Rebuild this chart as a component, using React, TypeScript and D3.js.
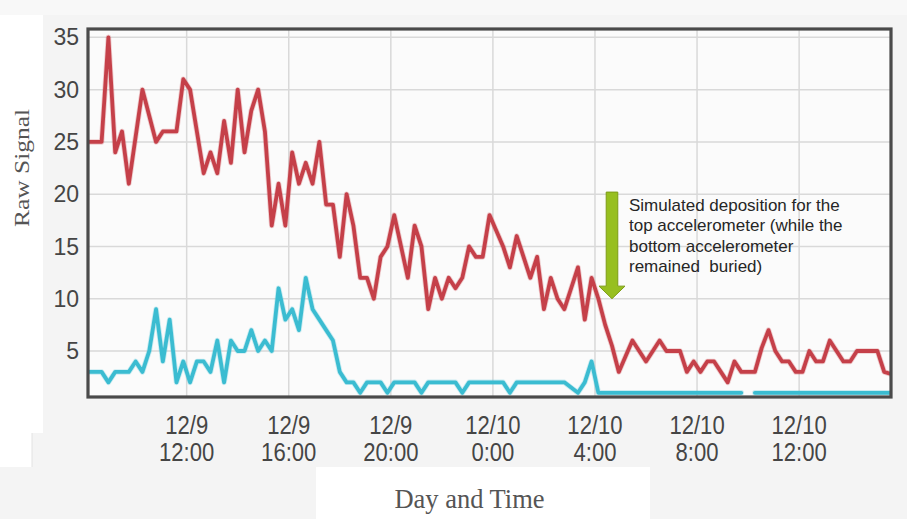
import React from 'react';
import * as d3 from 'd3';

// Raw signal, top accelerometer (red) - one reading every 16 minutes
const redValues: number[] = [
  25, 25, 25, 35, 24, 26, 21, 25.5, 30, 27.5,
  25, 26, 26, 26, 31, 30, 26, 22, 24, 22,
  27, 23, 30, 24, 28, 30, 26, 17, 21, 17,
  24, 21, 23, 21, 25, 19, 19, 14, 20, 17,
  12, 12, 10, 14, 15, 18, 15, 12, 17, 15,
  9, 12, 10, 12, 11, 12, 15, 14, 14, 18,
  16.5, 15, 13, 16, 14, 12, 14, 9, 12, 10,
  9, 11, 13, 8, 12, 10, 7.5, 5.5, 3, 4.5,
  6, 5, 4, 5, 6, 5, 5, 5, 3, 4,
  3, 4, 4, 3, 2, 4, 3, 3, 3, 5.3,
  7, 5, 4, 4, 3, 3, 5, 4, 4, 6,
  5, 4, 4, 5, 5, 5, 5, 3, 2.8,
];

// Raw signal, bottom accelerometer (cyan); null = missing reading
const cyanValues: (number | null)[] = [
  3, 3, 3, 2, 3, 3, 3, 4, 3, 5,
  9, 4, 8, 2, 4, 2, 4, 4, 3, 6,
  2, 6, 5, 5, 7, 5, 6, 5, 11, 8,
  9, 7, 12, 9, 8, 7, 6, 3, 2, 2,
  1, 2, 2, 2, 1, 2, 2, 2, 2, 1,
  2, 2, 2, 2, 2, 1, 2, 2, 2, 2,
  2, 2, 1, 2, 2, 2, 2, 2, 2, 2,
  2, 1.5, 1, 2, 4, 1, 1, 1, 1, 1,
  1, 1, 1, 1, 1, 1, 1, 1, 1, 1,
  1, 1, 1, 1, 1, 1, 1, null, 1, 1,
  1, 1, 1, 1, 1, 1, 1, 1, 1, 1,
  1, 1, 1, 1, 1, 1, 1, 1, 1,
];

const yTicks = [5, 10, 15, 20, 25, 30, 35];
const xTickTimes = [
  new Date(2014, 11, 9, 12, 0),
  new Date(2014, 11, 9, 16, 0),
  new Date(2014, 11, 9, 20, 0),
  new Date(2014, 11, 10, 0, 0),
  new Date(2014, 11, 10, 4, 0),
  new Date(2014, 11, 10, 8, 0),
  new Date(2014, 11, 10, 12, 0),
];
const startTime = new Date(2014, 11, 9, 8, 8);
const stepMinutes = 16;

const annotationLines = [
  'Simulated deposition for the',
  'top accelerometer (while the',
  'bottom accelerometer',
  'remained  buried)',
];
const arrowIndex = 77;
const arrowTopValue = 20.2;
const arrowTipValue = 10;

const yLabel = 'Raw Signal';
const xLabel = 'Day and Time';

const W = 907;
const H = 519;
const L = 88, R = 891, T = 29, B = 397;

export default function App() {
  const times = redValues.map((_, i) => new Date(startTime.getTime() + i * stepMinutes * 60000));
  const x = d3.scaleTime().domain([times[0], times[times.length - 1]]).range([L, R]);
  const y = d3.scaleLinear().domain([0.6, 35.8]).range([B, T]);

  const line = d3
    .line<number | null>()
    .defined((v) => v != null)
    .x((_, i) => x(times[i]))
    .y((v) => y(v as number));

  const fmtDay = d3.timeFormat('%-m/%-d');
  const fmtHour = d3.timeFormat('%-H:%M');

  const ax = x(times[arrowIndex]);
  const aTop = y(arrowTopValue);
  const aTip = y(arrowTipValue);
  const headH = 12.6;
  const shaftHW = 5.8;
  const headHW = 13;
  const arrowPts = [
    [ax - shaftHW, aTop],
    [ax + shaftHW, aTop],
    [ax + shaftHW, aTip - headH],
    [ax + headHW, aTip - headH],
    [ax, aTip],
    [ax - headHW, aTip - headH],
    [ax - shaftHW, aTip - headH],
  ]
    .map((p) => p.join(','))
    .join(' ');

  const sans = '"Liberation Sans", Arial, Helvetica, sans-serif';
  const serif = '"Liberation Serif", "Times New Roman", serif';

  return (
    <svg
      width={W}
      height={H}
      viewBox={`0 0 ${W} ${H}`}
      style={{ position: 'absolute', left: 0, top: 0, display: 'block' }}
    >
      <defs>
        <clipPath id="plotClip">
          <rect x={L} y={T} width={R - L} height={B - T} />
        </clipPath>
        <filter id="soft" x="-5%" y="-5%" width="110%" height="110%">
          <feGaussianBlur stdDeviation="0.6" />
        </filter>
      </defs>

      {/* page backgrounds */}
      <rect x={0} y={0} width={W} height={H} fill="#f4f4f4" />
      <rect x={0} y={0} width={W} height={15} fill="#f8f8f8" />
      <rect x={0} y={15} width={43} height={418} fill="#ffffff" />
      <rect x={0} y={433} width={32} height={34} fill="#ffffff" />
      <line x1={32} x2={32} y1={433} y2={467} stroke="#e2e2e2" strokeWidth={1} />
      <rect x={316} y={467} width={334} height={52} fill="#ffffff" />

      {/* plot area */}
      <rect x={L} y={T} width={R - L} height={B - T} fill="#fbfbfb" />

      {/* grid */}
      <g stroke="#d9d9d9" strokeWidth={1.5}>
        {yTicks.map((t) => (
          <line key={`gy${t}`} x1={L} x2={R} y1={y(t)} y2={y(t)} />
        ))}
        {xTickTimes.map((t, i) => (
          <line key={`gx${i}`} x1={x(t)} x2={x(t)} y1={T} y2={B} />
        ))}
      </g>

      {/* series */}
      <g clipPath="url(#plotClip)" fill="none" strokeLinejoin="round" strokeLinecap="round">
        <path d={line(redValues) || ''} stroke="#c9454b" strokeWidth={5.5} opacity={0.25} filter="url(#soft)" />
        <path d={line(redValues) || ''} stroke="#c5414a" strokeWidth={3.8} filter="url(#soft)" />
        <path d={line(cyanValues) || ''} stroke="#3cbdd2" strokeWidth={5.5} opacity={0.25} filter="url(#soft)" />
        <path d={line(cyanValues) || ''} stroke="#3bbcd1" strokeWidth={3.8} filter="url(#soft)" />
      </g>

      {/* frame */}
      <rect
        x={L}
        y={T}
        width={R - L}
        height={B - T}
        fill="none"
        stroke="#4a4a4a"
        strokeWidth={3.2}
      />

      {/* y tick labels */}
      <g fontFamily={sans} fontSize={23} fill="#454545" textAnchor="end">
        {yTicks.map((t) => (
          <text key={`ty${t}`} x={79} y={y(t)} dy="0.35em">
            {t}
          </text>
        ))}
      </g>

      {/* x tick labels */}
      <g fontFamily={sans} fontSize={26} fill="#454545" textAnchor="middle">
        {xTickTimes.map((t, i) => (
          <g key={`tx${i}`}>
            <text transform={`translate(${x(t)},434) scale(0.85,1)`}>{fmtDay(t)}</text>
            <text transform={`translate(${x(t)},461) scale(0.85,1)`}>{fmtHour(t)}</text>
          </g>
        ))}
      </g>

      {/* axis titles */}
      <text
        x={469.5}
        y={508}
        textAnchor="middle"
        fontFamily={serif}
        fontSize={26.5}
        fill="#555555"
      >
        {xLabel}
      </text>
      <text
        transform={`translate(29,168) rotate(-90)`}
        textAnchor="middle"
        fontFamily={serif}
        fontSize={20}
        fill="#555555"
        textLength={118}
        lengthAdjust="spacingAndGlyphs"
      >
        {yLabel}
      </text>

      {/* annotation */}
      <polygon points={arrowPts} fill="#97bf1f" stroke="#7d9c16" strokeWidth={1} />
      <g fontFamily={sans} fontSize={17} fill="#262626" style={{ whiteSpace: 'pre' }}>
        {annotationLines.map((s, i) => (
          <text key={`an${i}`} x={ax + 17} y={210.5 + i * 20.5} xmlSpace="preserve">
            {s}
          </text>
        ))}
      </g>
    </svg>
  );
}
